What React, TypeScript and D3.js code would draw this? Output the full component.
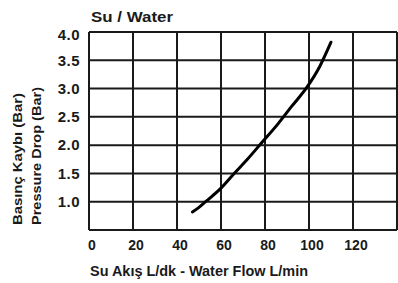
import * as React from "react"
import * as d3 from "d3"

// water flow (L/min) vs pressure drop (bar)
const flow = [47, 50, 53, 60, 66, 72, 78, 86, 92, 99, 105, 110]
const pressure = [0.82, 0.9, 1.0, 1.24, 1.5, 1.75, 2.02, 2.38, 2.68, 3.02, 3.4, 3.82]

const xTicks = [0, 20, 40, 60, 80, 100, 120]
const xGrid = [0, 20, 40, 60, 80, 100, 120, 140]
const yTicks = [1.0, 1.5, 2.0, 2.5, 3.0, 3.5, 4.0]
const yGrid = [0.5, 1.0, 1.5, 2.0, 2.5, 3.0, 3.5, 4.0]

const title = "Su / Water"
const xTitle = "Su Akış L/dk - Water Flow L/min"
const yTitles = ["Basınç Kaybı (Bar)", "Pressure Drop (Bar)"]

const App = () => {
    const [w, h] = [398, 283]
    const font = "'Liberation Sans', Arial, sans-serif"
    const ink = "#1a1a1a"

    const xScale = d3.scaleLinear().domain([0, 140]).range([89, 397])
    const yScale = d3.scaleLinear().domain([0.5, 4.0]).range([230, 32])

    const pts: [number, number][] = flow.map((f, i) => [f, pressure[i]])
    const line = d3
        .line<[number, number]>()
        .x(d => xScale(d[0]))
        .y(d => yScale(d[1]))
        .curve(d3.curveMonotoneX)

    const vLines = xGrid.map((d, i) => (
        <line key={i} x1={xScale(d)} x2={xScale(d)} y1={yScale(4.0)} y2={yScale(0.5)}
            stroke={ink} strokeWidth={2} />
    ))
    const hLines = yGrid.map((d, i) => (
        <line key={i} x1={xScale(0)} x2={xScale(140)} y1={yScale(d)} y2={yScale(d)}
            stroke={ink} strokeWidth={2} />
    ))

    const xLabels = xTicks.map((d, i) => (
        <text key={i} x={xScale(d) + 3} y={250} fontSize={14} fontWeight="bold"
            textAnchor="middle" fill={ink} fontFamily={font}>
            {d}
        </text>
    ))
    const yLabels = yTicks.map((d, i) => (
        <text key={i} x={80} y={yScale(d) + (d === 4.0 ? 3 : 0)} dy="0.35em" fontSize={15}
            fontWeight="bold" textAnchor="end" fill={ink} fontFamily={font} letterSpacing={0.5}>
            {d.toFixed(1)}
        </text>
    ))

    return (
        <div style={{ position: "absolute", left: 0, top: 0 }}>
            <svg width={w} height={h} style={{ display: "block", background: "#fff" }}>
                <text x={91} y={22} fontSize={14} fontWeight="bold" fill={ink} fontFamily={font}
                    textLength={82} lengthAdjust="spacingAndGlyphs">
                    {title}
                </text>
                {hLines}
                {vLines}
                <path d={line(pts) ?? ""} fill="none" stroke="#000" strokeWidth={3}
                    strokeLinecap="round" />
                {xLabels}
                {yLabels}
                <text x={90} y={276} fontSize={14} fontWeight="bold" fill={ink} fontFamily={font}
                    textLength={218} lengthAdjust="spacingAndGlyphs">
                    {xTitle}
                </text>
                {yTitles.map((t, i) => (
                    <text key={i} transform={`translate(${22 + i * 19},${[159, 156][i]}) rotate(-90)`}
                        fontSize={12} fontWeight="bold" textAnchor="middle" fill={ink} fontFamily={font}
                        textLength={[132, 138][i]} lengthAdjust="spacingAndGlyphs">
                        {t}
                    </text>
                ))}
            </svg>
        </div>
    )
}

export default App
